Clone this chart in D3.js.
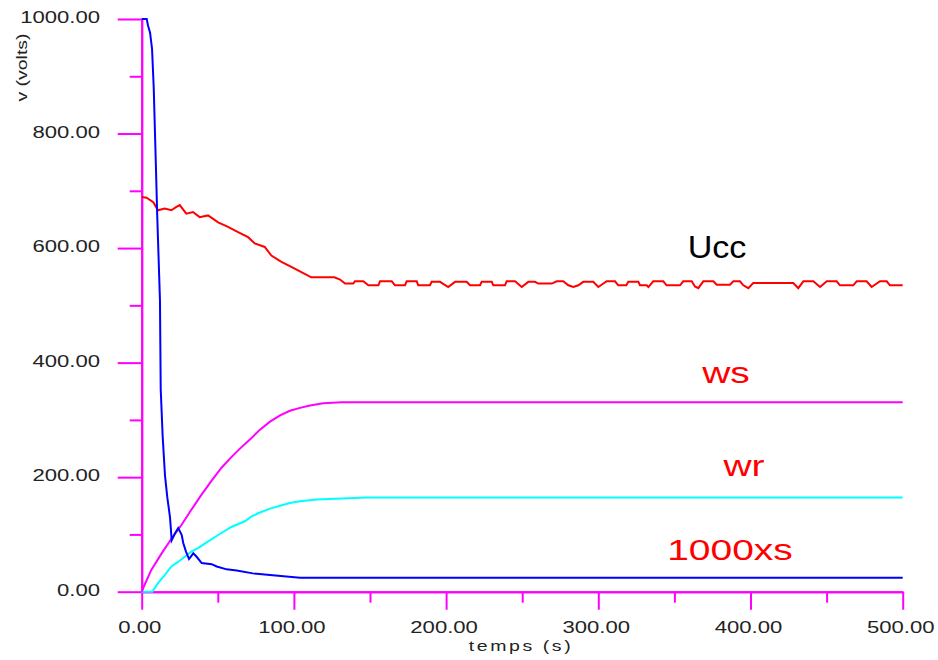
<!DOCTYPE html>
<html>
<head>
<meta charset="utf-8">
<script src="https://cdn.jsdelivr.net/npm/d3@7"></script>
<style>
  body { margin: 0; background: #fff; }
  text { font-family: "Liberation Sans", Arial, sans-serif; }
</style>
</head>
<body>
<svg width="938" height="660"></svg>
<script>
// axis ticks
var xMajor = [0, 100, 200, 300, 400, 500];
var xMinor = [50, 150, 250, 350, 450];
var yMajor = [0, 200, 400, 600, 800, 1000];
var yMinor = [100, 300, 500, 700, 900];

// 1000xs (blue)
var s1000 = [[0,1000],[3.3,1000],[4.1,989],[5.5,976],[6.8,948],[7.9,880],[9.2,756],[10.2,657],
  [12,509],[12.5,353],[13.8,270],[15.3,203],[16.8,165],[18.6,130],[19.7,90],[21.9,102],[24,111],
  [26.3,99],[27.3,85],[29.1,70],[31.1,57],[33.9,67],[36.1,61],[39.4,50],[46,48],[49.3,44],
  [55.8,39],[62.4,37],[73,32],[84.3,29],[104,24.5],[500,24.5]];

// ws (magenta)
var ws = [[0,0],[0.9,6],[6.3,38],[12.9,66],[19.4,92],[26,116],[32.6,143],[39.2,169],[45.7,193],
  [52.3,216],[58.9,235],[65.4,252],[72,268],[77.7,283],[84.3,297],[90.9,308],[97.4,316],[104,321],
  [110.6,325],[119.3,329],[131.4,331],[500,331]];

// wr (cyan)
var wr = [[0,0],[7,0],[10.7,15],[15.1,29],[19.5,44],[23.9,52],[28.3,61],[32.6,70],[37,76],[41.4,84],
  [50.2,99],[58.9,113],[67.7,123],[72,131],[76.5,137],[84.3,145],[90.9,150],[97.4,155],[104,158],
  [115,161],[148,164.5],[500,164.5]];

// Ucc (red)
var ucc = [[0,689],[3.2,688],[7.6,680],[10.7,666],[15.1,669],[19.5,666],[22.8,672],[25,675],
  [29.3,660],[33.7,663],[38.1,654],[43.6,657],[50.2,645],[56.7,637],[63.3,628],[69.9,619],
  [74.3,608],[80.8,602],[85.2,587],[91.8,576],[98.3,567],[107.1,555],[111.4,549],[126.6,549],
  [130.3,545],[133.6,538],[139,538],[140.1,542],[145.6,542],[148.9,535],[155.5,535],[156.6,542],
  [164.3,542],[166.4,535],[173,535],[174.1,542],[180.7,542],[181.7,535],[189.4,535],[190.5,541],
  [196,541],[201.4,532],[205.9,541],[213.5,541],[215.7,535],[222.3,535],[223.4,541],[230,541],
  [231,535],[238.7,535],[239.8,542],[245.3,542],[249.7,532],[254,541],[258.4,541],[260.6,538],
  [269.4,538],[272.7,542],[277,542],[280.3,535],[283.6,532],[286.9,535],[290.1,541],[296.7,541],
  [300,532],[305.5,542],[311,542],[313.1,535],[318.4,535],[319.7,541],[326.3,541],[327.4,535],
  [331.8,535],[332.9,532],[336.1,542],[342.7,542],[344.9,535],[353.7,535],[355.8,542],[361.4,542],
  [363.5,533],[365.7,530],[369,542],[375.6,542],[377.8,536],[386.5,536],[388.7,542],[393.1,542],
  [395.3,535],[398.6,530],[401.8,539],[428.1,539],[431.4,530],[434.7,542],[441.3,542],[445.7,532],
  [450.1,542],[456.6,542],[458.8,535],[467.5,535],[469.8,542],[476.3,542],[479.6,532],[485.1,542],
  [489.5,542],[491.6,535],[500,535]];

var svg = d3.select("svg");
var x = d3.scaleLinear().domain([0, 500]).range([141.7, 902.7]);
var y = d3.scaleLinear().domain([0, 1000]).range([591.7, 19]);

var axisColor = "#ff00ff";
function styleAxis(g) {
  g.selectAll("path, line").attr("stroke", axisColor).attr("stroke-width", 2);
  g.selectAll("text").remove();
}

svg.append("g").attr("transform", "translate(0," + y(0) + ")")
  .call(d3.axisBottom(x).tickValues(xMajor).tickSize(18).tickSizeOuter(0)).call(styleAxis);
svg.append("g").attr("transform", "translate(0," + y(0) + ")")
  .call(d3.axisBottom(x).tickValues(xMinor).tickSize(11).tickSizeOuter(0)).call(styleAxis);
svg.append("g").attr("transform", "translate(" + x(0) + ",0)")
  .call(d3.axisLeft(y).tickValues(yMajor).tickSize(24).tickSizeOuter(0)).call(styleAxis);
svg.append("g").attr("transform", "translate(" + x(0) + ",0)")
  .call(d3.axisLeft(y).tickValues(yMinor).tickSize(12).tickSizeOuter(0)).call(styleAxis);

var fmt = d3.format(".2f");
function addText(px, py, str, size, sx, anchor, fill, rot) {
  return svg.append("text")
    .attr("transform", "translate(" + px + "," + py + ")" + (rot ? " rotate(" + rot + ")" : "") + " scale(" + sx + ",1)")
    .attr("text-anchor", anchor)
    .attr("font-size", size)
    .attr("fill", fill)
    .text(str);
}

yMajor.forEach(function (d) { addText(100, y(d) + 4, fmt(d), 16, 1.38, "end", "#222"); });
xMajor.forEach(function (d) { addText(x(d) - 2, 632.5, fmt(d), 16, 1.38, "middle", "#222"); });

addText(521, 651, "temps (s)", 15, 1.3, "middle", "#222").attr("letter-spacing", 2);
addText(27, 67.5, "v (volts)", 15, 1.3, "middle", "#222", -90);

var line = d3.line().x(function (d) { return x(d[0]); }).y(function (d) { return y(d[1]); });

var series = [
  { data: wr, color: "#00ffff" },
  { data: ws, color: "#ff00ff" },
  { data: ucc, color: "#ff0000" },
  { data: s1000, color: "#0000ff" }
];
svg.selectAll("path.serie").data(series).enter().append("path")
  .attr("class", "serie")
  .attr("fill", "none")
  .attr("stroke", function (d) { return d.color; })
  .attr("stroke-width", 2)
  .attr("d", function (d) { return line(d.data); });

// labels on the curves
addText(717, 258, "Ucc", 31, 1.1, "middle", "#000");
addText(726, 383, "ws", 30, 1.3, "middle", "#ff0000");
addText(744, 476, "wr", 30, 1.3, "middle", "#ff0000");
addText(730, 560, "1000xs", 30, 1.3, "middle", "#ff0000");
</script>
</body>
</html>
